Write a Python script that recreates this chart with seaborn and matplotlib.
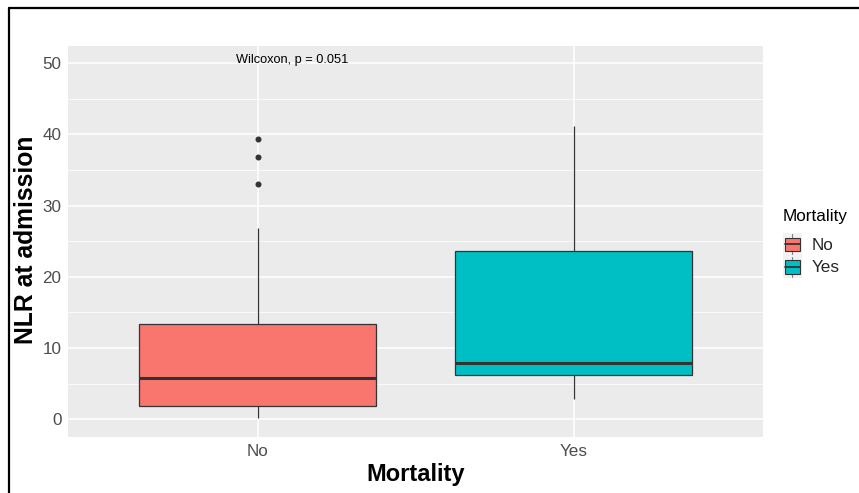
import numpy as np
import pandas as pd
import matplotlib
matplotlib.use("Agg")
import matplotlib.pyplot as plt
import seaborn as sns
from matplotlib.patches import Patch, Rectangle
from matplotlib.lines import Line2D
from matplotlib.legend_handler import HandlerBase
from matplotlib.ticker import MultipleLocator

# NLR at admission, per mortality group
nlr_no = [0.22, 0.6, 1.1, 1.5, 1.87, 2.6, 3.4, 4.5, 5.76,
          7.2, 9.0, 11.1, 13.34, 26.9, 33.1, 36.9, 39.4]
nlr_yes = [2.85, 4.6, 6.18, 7.0, 7.87, 14.5, 23.7, 31.0, 41.2]

groups = ["No", "Yes"]
palette = {"No": "#F8766D", "Yes": "#00BFC4"}
y_ticks = [0, 10, 20, 30, 40, 50]
p_label = "Wilcoxon, p = 0.051"

df = pd.DataFrame({
    "Mortality": ["No"] * len(nlr_no) + ["Yes"] * len(nlr_yes),
    "NLR": nlr_no + nlr_yes,
})

sns.set_theme(style="darkgrid")
plt.rcParams["font.family"] = ["Liberation Sans", "DejaVu Sans"]

W, H = 859, 493
fig = plt.figure(figsize=(W / 100, H / 100), dpi=100)
fig.patch.set_facecolor("white")

left, right, top, bottom = 68, 763.3, 45.7, 437.3
ax = fig.add_axes([left / W, 1 - bottom / H, (right - left) / W, (bottom - top) / H])
ax.set_facecolor("#EBEBEB")

line_c = "#333333"
sns.boxplot(
    data=df, x="Mortality", y="NLR", hue="Mortality", order=groups,
    palette=palette, saturation=1, width=0.75, whis=1.5, linecolor=line_c,
    linewidth=0.9, showcaps=False, legend=False, ax=ax,
    medianprops=dict(color=line_c, linewidth=2.2),
    flierprops=dict(marker="o", markersize=3.3, markerfacecolor=line_c,
                    markeredgecolor=line_c),
    boxprops=dict(edgecolor=line_c), whiskerprops=dict(color=line_c, linewidth=0.9),
    zorder=3,
)

ax.set_xlim(-0.6, 1.6)
ax.set_ylim(-2.53, 52.47)
ax.set_yticks(y_ticks)
ax.yaxis.set_minor_locator(MultipleLocator(5))
ax.grid(which="major", color="white", linewidth=1.1)
ax.grid(which="minor", axis="y", color="white", linewidth=0.55)
ax.set_axisbelow(True)
for s in ax.spines.values():
    s.set_visible(False)
ax.tick_params(axis="both", which="major", length=2.5, width=0.8, color=line_c,
               labelcolor="#4D4D4D", labelsize=12.3, pad=2.2)
ax.tick_params(axis="y", which="minor", length=0)
ax.set_xlabel("")
ax.set_ylabel("")

ax.text(-0.07, 50.46, p_label, ha="left", va="center", fontsize=9.2, color="black")

fig.text(26.5 / W, 1 - 240 / H, "NLR at admission", rotation=90, ha="center",
         va="center", fontsize=17.8, fontweight="bold", color="black")
fig.text(415.5 / W, 1 - 475 / H, "Mortality", ha="center", va="center",
         fontsize=17.0, fontweight="bold", color="black")


class BoxKey(HandlerBase):
    """Legend key drawn as a miniature box with median and whisker stubs."""

    def create_artists(self, legend, orig_handle, xdescent, ydescent, width,
                       height, fontsize, trans):
        x0, y0 = -xdescent, -ydescent
        bg = Rectangle((x0, y0), width, height, facecolor="#F2F2F2",
                       edgecolor="none", transform=trans)
        bx, bw = x0 + width * 0.12, width * 0.76
        by, bh = y0 + height * 0.2, height * 0.6
        box = Rectangle((bx, by), bw, bh, facecolor=orig_handle.get_facecolor(),
                        edgecolor=line_c, linewidth=0.8, transform=trans)
        cx = x0 + width / 2
        med = Line2D([bx, bx + bw], [by + bh / 2] * 2, color=line_c,
                     linewidth=1.3, transform=trans)
        w1 = Line2D([cx, cx], [y0 + height * 0.05, by], color="#7F7F7F",
                    linewidth=0.8, transform=trans)
        w2 = Line2D([cx, cx], [by + bh, y0 + height * 0.95], color="#7F7F7F",
                    linewidth=0.8, transform=trans)
        return [bg, w1, w2, box, med]


# legend title sits above the keys, left-aligned with them
fig.text(783 / W, 1 - 216.5 / H, "Mortality", ha="left", va="center",
         fontsize=12.3, color="black")
handles = [Patch(facecolor=palette[g], label=g) for g in groups]
leg = fig.legend(handles=handles, labels=groups,
                 handler_map={Patch: BoxKey()}, loc="upper left",
                 bbox_to_anchor=(783 / W, 1 - 233 / H), frameon=False,
                 fontsize=12.3, handlelength=1.1,
                 handleheight=1.65, handletextpad=0.55, labelspacing=0.0,
                 borderpad=0.0, borderaxespad=0.0)

# frame lines along the left and top of the image
fig.add_artist(Line2D([9 / W, 9 / W], [0, 1 - 8 / H], transform=fig.transFigure,
                      color="black", linewidth=1.6))
fig.add_artist(Line2D([9 / W, 1], [1 - 8 / H, 1 - 8 / H], transform=fig.transFigure,
                      color="black", linewidth=1.6))

fig.savefig("out.png", dpi=100)
